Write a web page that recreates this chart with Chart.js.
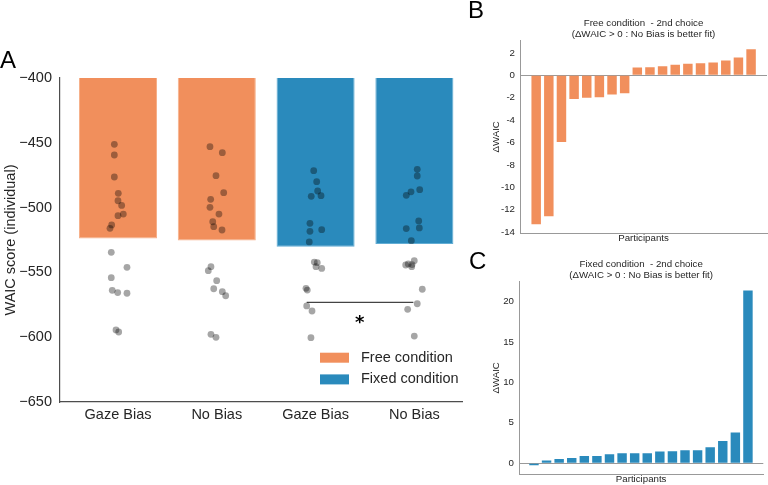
<!DOCTYPE html>
<html>
<head>
<meta charset="utf-8">
<script src="https://cdn.jsdelivr.net/npm/chart.js@4.4.0/dist/chart.umd.min.js"></script>
<style>
  body { margin: 0; background: #fff; width: 768px; height: 485px; position: relative; overflow: hidden; }
  canvas { position: absolute; }
  .panel { position: absolute; font-family: "Liberation Sans", Arial, sans-serif; font-size: 24px; line-height: 24px; color: #000; }
</style>
</head>
<body>
<canvas id="chartA" width="470" height="485" style="left:0;top:0"></canvas>
<canvas id="chartB" width="298" height="250" style="left:470px;top:0"></canvas>
<canvas id="chartC" width="298" height="235" style="left:470px;top:250px"></canvas>
<div class="panel" style="left:0;top:48px">A</div>
<div class="panel" style="left:468px;top:-2px">B</div>
<div class="panel" style="left:469px;top:249px">C</div>
<script>
const FONT = '"Liberation Sans", Arial, sans-serif';
const TEXT = '#262626';
const ORANGE = '#F18F5C';
const BLUE = '#2A8ABC';

// Panel A: model comparison, individual WAIC scores
const modelLabels = ['Gaze Bias', 'No Bias', 'Gaze Bias', 'No Bias'];
const freeMeans = [-523.8, -525.3];
const fixedMeans = [-530.3, -528.0];

const freeGazeWaic = [-451.2, -459.4, -476.4, -489, -494.7, -498.3, -505, -506.2, -513.4, -516, -534.5, -546.1, -554.1, -563.8, -565.6, -566.1, -594.4, -596];
const freeGazeJitter = [-0.037, -0.037, -0.037, 0.003, 0, 0.037, 0.054, 0, -0.064, -0.081, -0.068, 0.091, -0.068, -0.058, -0.003, 0.091, -0.02, 0.007];
const freeNoBiasWaic = [-453, -457.6, -475.4, -488.5, -493.6, -499.8, -505, -510.9, -514.7, -517.3, -545.6, -548.7, -556.4, -562.6, -564.9, -568, -597.8, -600.1];
const freeNoBiasJitter = [-0.069, 0.056, -0.008, 0.07, -0.062, -0.069, 0.022, -0.041, -0.031, 0.053, -0.059, -0.086, -0.001, -0.031, 0.056, 0.09, -0.059, -0.008];
const fixedGazeWaic = [-471.5, -480, -487.2, -491.3, -490.8, -512.1, -518.3, -517, -526.5, -542, -542.5, -545.6, -546.9, -562.3, -563.6, -575.9, -579.8, -600.4];
const fixedGazeJitter = [-0.019, 0.011, 0.021, -0.044, 0.055, -0.057, -0.057, 0.062, -0.064, -0.013, 0.017, 0.004, 0.062, -0.097, -0.084, -0.09, -0.036, -0.047];
const fixedNoBiasWaic = [-470.5, -475.6, -486.2, -487.8, -490.5, -510.3, -515.7, -516.2, -525.5, -541, -543.5, -545.6, -544.3, -544, -563, -574.2, -578.5, -599.1];
const fixedNoBiasJitter = [0.029, 0.029, 0.054, -0.034, -0.082, 0.044, 0.05, -0.082, -0.031, -0.001, -0.062, -0.027, -0.088, -0.024, 0.08, 0.029, -0.068, -0.001];

// significance bracket between the two fixed-condition models
const sigFrom = 1.91, sigTo = 2.99, sigY = -573.2;
const starX = 2.446, starY = -593;

// Panels B and C: delta WAIC per participant (sorted)
const freeDelta = [-13.3, -12.58, -5.95, -2.12, -2.0, -1.97, -1.73, -1.61, 0.69, 0.72, 0.81, 0.93, 1.02, 1.08, 1.14, 1.32, 1.59, 2.33];
const fixedDelta = [-0.25, 0.33, 0.54, 0.66, 0.91, 0.91, 1.11, 1.24, 1.24, 1.24, 1.44, 1.49, 1.61, 1.61, 1.98, 2.76, 3.8, 21.37];

// legend drawn inside the plot, bottom right
const insideLegend = {
    id: 'insideLegend',
    afterDraw(chart) {
        const {ctx, chartArea} = chart;
        const items = chart.data.datasets.filter(d => d.inLegend);
        ctx.save();
        ctx.font = '14.5px ' + FONT;
        ctx.textBaseline = 'middle';
        items.forEach((d, i) => {
            const cy = chartArea.bottom - 44.3 + i * 21.7;
            ctx.fillStyle = d.backgroundColor;
            ctx.fillRect(chartArea.right - 142, cy - 5, 29, 10);
            ctx.fillStyle = TEXT;
            ctx.fillText(d.label, chartArea.right - 101, cy);
        });
        ctx.restore();
    }
};

// the asterisk under the bracket
const starMark = {
    id: 'starMark',
    afterDraw(chart) {
        const {ctx, scales} = chart;
        ctx.save();
        ctx.font = 'bold 18px "DejaVu Sans", sans-serif';
        ctx.fillStyle = '#000';
        ctx.textAlign = 'center';
        ctx.textBaseline = 'alphabetic';
        ctx.fillText('*', scales.x.getPixelForValue(starX), scales.y.getPixelForValue(starY));
        ctx.restore();
    }
};

const groups = [
    [freeGazeWaic, freeGazeJitter],
    [freeNoBiasWaic, freeNoBiasJitter],
    [fixedGazeWaic, fixedGazeJitter],
    [fixedNoBiasWaic, fixedNoBiasJitter]
];
const dots = [];
groups.forEach(([vals, jit], i) => {
    vals.forEach((v, j) => dots.push({x: i + jit[j], y: v}));
});

const fontA = {family: FONT, size: 14.5};

new Chart(document.getElementById('chartA'), {
    type: 'bar',
    data: {
        datasets: [
            {
                type: 'scatter', label: 'participants', data: dots,
                backgroundColor: 'rgba(0,0,0,0.35)', pointRadius: 3.4, borderWidth: 0, order: 0
            },
            {
                type: 'line', label: 'sig', data: [{x: sigFrom, y: sigY}, {x: sigTo, y: sigY}],
                borderColor: '#444', borderWidth: 1.3, pointRadius: 0, order: 0
            },
            {
                label: 'Free condition', inLegend: true,
                data: freeMeans.map((v, i) => ({x: i, y: v})),
                backgroundColor: ORANGE, borderColor: '#F6B08A', borderWidth: 1,
                grouped: false, barPercentage: 0.79, categoryPercentage: 1, clip: 0, order: 1
            },
            {
                label: 'Fixed condition', inLegend: true,
                data: fixedMeans.map((v, i) => ({x: i + 2, y: v})),
                backgroundColor: BLUE, borderColor: '#62ADD4', borderWidth: 1,
                grouped: false, barPercentage: 0.79, categoryPercentage: 1, clip: 0, order: 1
            }
        ]
    },
    options: {
        responsive: false,
        animation: false,
        layout: {padding: {left: 0, right: 8, top: 78, bottom: 0}},
        plugins: {legend: {display: false}, tooltip: {enabled: false}},
        scales: {
            x: {
                type: 'linear', min: -0.587, max: 3.482, offset: false,
                grid: {display: false, drawTicks: false, offset: false},
                border: {display: true, color: '#4d4d4d', width: 1.2},
                afterBuildTicks: s => { s.ticks = modelLabels.map((_, i) => ({value: i})); },
                ticks: {autoSkip: false, maxRotation: 0, padding: 4, color: TEXT, font: fontA, callback: v => modelLabels[v]},
                afterFit: s => { s.height = 83; }
            },
            y: {
                min: -650, max: -400,
                grid: {display: false, drawTicks: false},
                border: {display: true, color: '#4d4d4d', width: 1.2},
                ticks: {stepSize: 50, padding: 8, color: TEXT, font: fontA, callback: v => String(v).replace('-', '\u2212')},
                title: {display: true, text: 'WAIC score (individual)', color: TEXT, font: fontA, padding: {top: 2, bottom: 0}},
                afterFit: s => { s.width = 60; }
            }
        }
    },
    plugins: [insideLegend, starMark]
});

const fontS = {family: FONT, size: 9.7};

function deltaChart(id, title, values, color, o) {
    return new Chart(document.getElementById(id), {
        type: 'bar',
        data: {
            datasets: [{
                data: values.map((v, i) => ({x: i, y: v})),
                backgroundColor: color, barPercentage: 0.75, categoryPercentage: 1
            }]
        },
        options: {
            responsive: false,
            animation: false,
            layout: {padding: {left: 0, right: o.padRight, top: 0, bottom: 0}},
            plugins: {
                legend: {display: false},
                tooltip: {enabled: false},
                title: {
                    display: true, text: title, fullSize: false, color: TEXT,
                    font: {family: FONT, size: 9.7, weight: 'normal', lineHeight: o.titleLH},
                    padding: {top: o.titleTop, bottom: o.titleBottom}
                }
            },
            scales: {
                x: {
                    type: 'linear', min: o.xMin, max: o.xMax, offset: false,
                    grid: {display: false, drawTicks: false, offset: false},
                    border: {display: true, color: '#999'},
                    ticks: {display: false},
                    title: {display: true, text: 'Participants', color: TEXT, font: fontS, padding: {top: 0, bottom: o.xTitlePad}},
                    afterFit: s => { s.height = o.xHeight; }
                },
                y: {
                    min: o.yMin, max: o.yMax,
                    grid: {drawTicks: false, color: c => (c.tick && c.tick.value === 0) ? '#999' : 'rgba(0,0,0,0)'},
                    border: {display: true, color: '#999'},
                    ticks: {stepSize: o.step, includeBounds: false, padding: 5, color: TEXT, font: fontS},
                    title: {display: true, text: '\u0394WAIC', color: TEXT, font: fontS, padding: {top: 20.9, bottom: 0}},
                    afterFit: s => { s.width = o.yWidth; }
                }
            }
        }
    });
}

deltaChart('chartB', ['Free condition  - 2nd choice', '(\u0394WAIC > 0 : No Bias is better fit)'], freeDelta, ORANGE, {
    padRight: 1, xMin: -1.28, xMax: 18.26, yMin: -14.08, yMax: 3.08, step: 2,
    xHeight: 17, xTitlePad: 5.5, yWidth: 50, titleLH: 1.13, titleTop: 17.8, titleBottom: 1
});

deltaChart('chartC', ['Fixed condition  - 2nd choice', '(\u0394WAIC > 0 : No Bias is better fit)'], fixedDelta, BLUE, {
    padRight: 4.7, xMin: -1.19, xMax: 18.22, yMin: -1.33, yMax: 22.45, step: 5,
    xHeight: 11, xTitlePad: 0, yWidth: 49, titleLH: 1.2, titleTop: 8.2, titleBottom: 0.2
});
</script>
</body>
</html>
